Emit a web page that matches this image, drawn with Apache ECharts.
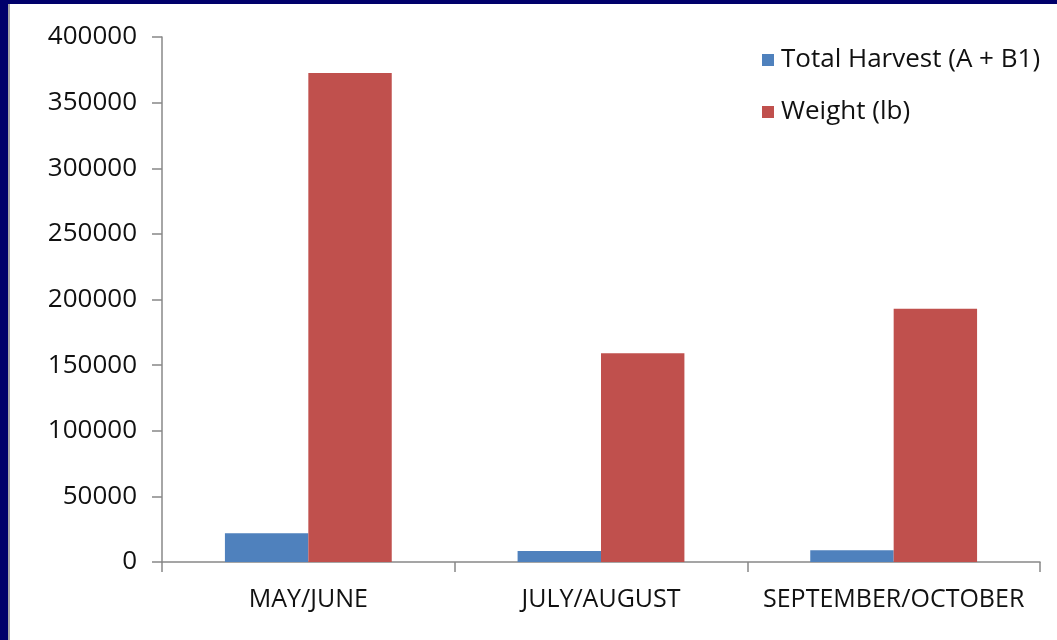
<!DOCTYPE html>
<html>
<head>
<meta charset="utf-8">
<script src="https://cdn.jsdelivr.net/npm/echarts@6/dist/echarts.min.js"></script>
<style>
  html, body { margin: 0; padding: 0; background: #fff; }
  #frameTop { position: absolute; left: 0; top: 0; width: 1057px; height: 4px; background: #00006b; }
  #frameLeft { position: absolute; left: 0; top: 0; width: 8px; height: 640px; background: #00006b; }
  #frameLine { position: absolute; left: 8px; top: 4px; width: 2px; height: 636px; background: #a6a6a6; }
  #chart { position: absolute; left: 0; top: 0; width: 1057px; height: 640px; }
</style>
</head>
<body>
<div id="chart"></div>
<div id="frameTop"></div>
<div id="frameLeft"></div>
<div id="frameLine"></div>
<script>
// categories and series values
var categories = ['MAY/JUNE', 'JULY/AUGUST', 'SEPTEMBER/OCTOBER'];
var harvestValues = [22000, 8400, 9000];
var weightValues = [372500, 159000, 193000];
var seriesNames = ['Total Harvest (A + B1)', 'Weight (lb)'];

var FONT = 'Open Sans';
var TEXT_COLOR = '#111111';
var AXIS_COLOR = '#888888';

var myChart = echarts.init(document.getElementById('chart'));

var option = {
    animation: false,
    legend: {
        orient: 'vertical',
        left: 757,
        top: 40,
        itemWidth: 12,
        itemHeight: 12,
        itemGap: 22,
        icon: 'rect',
        data: seriesNames,
        textStyle: { fontFamily: FONT, fontSize: 26, color: TEXT_COLOR, lineHeight: 30, padding: [0, 0, 0, 2] }
    },
    grid: {
        left: 162,
        right: 17,
        top: 37,
        bottom: 78
    },
    xAxis: {
        type: 'category',
        data: categories,
        axisLine: { lineStyle: { color: AXIS_COLOR, width: 1.5 } },
        axisTick: { show: true, interval: 0, length: 10, lineStyle: { color: AXIS_COLOR, width: 1.5 } },
        axisLabel: { interval: 0, fontFamily: FONT, fontSize: 25, color: TEXT_COLOR, margin: 25 }
    },
    yAxis: {
        type: 'value',
        min: 0,
        max: 400000,
        interval: 50000,
        splitLine: { show: false },
        axisLine: { show: true, lineStyle: { color: AXIS_COLOR, width: 1.5 } },
        axisTick: { show: true, length: 10, lineStyle: { color: AXIS_COLOR, width: 1.5 } },
        axisLabel: {
            fontFamily: FONT, fontSize: 26, color: TEXT_COLOR, margin: 25,
            formatter: function (v) { return String(v); }
        }
    },
    series: [
        {
            name: seriesNames[0],
            type: 'bar',
            data: harvestValues,
            barGap: '0%',
            barCategoryGap: '43%',
            itemStyle: { color: '#4f81bd' }
        },
        {
            name: seriesNames[1],
            type: 'bar',
            data: weightValues,
            barGap: '0%',
            barCategoryGap: '43%',
            itemStyle: { color: '#c0504d' }
        }
    ]
};

myChart.setOption(option);
</script>
</body>
</html>
